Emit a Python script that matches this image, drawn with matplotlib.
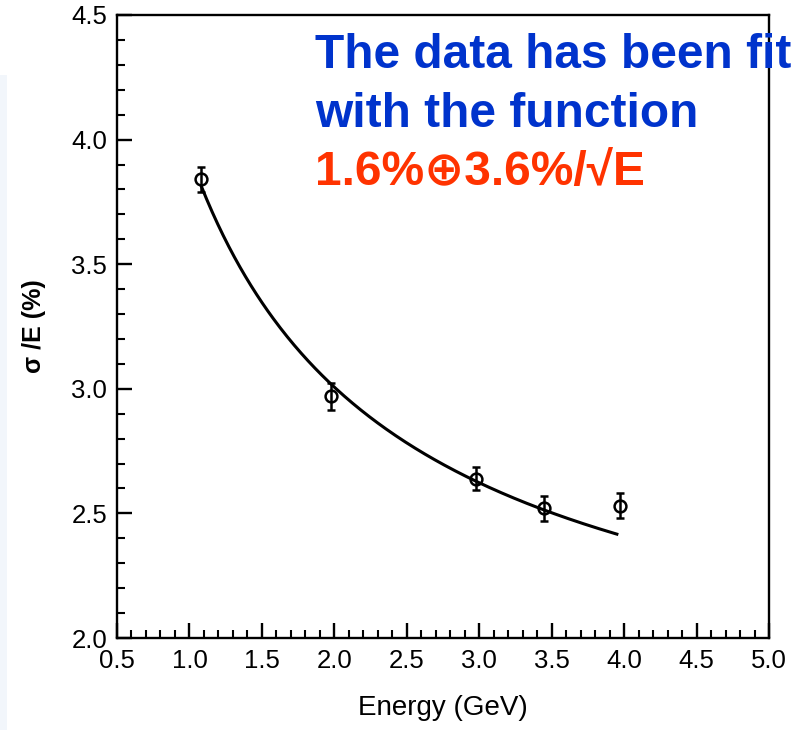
import numpy as np
import matplotlib
matplotlib.use("Agg")
import matplotlib.pyplot as plt
from matplotlib.patches import Rectangle
from matplotlib.ticker import MultipleLocator

# Measured energy resolution
energy = [1.08, 1.98, 2.98, 3.45, 3.97]
resolution = [3.84, 2.97, 2.64, 2.52, 2.53]
resolution_err = [0.05, 0.055, 0.045, 0.05, 0.05]

# Fit: sigma/E = a (+) b/sqrt(E), added in quadrature
fit_const = 1.6
fit_stoch = 3.6
fit_range = (1.08, 3.95)

x_ticks = [0.5, 1.0, 1.5, 2.0, 2.5, 3.0, 3.5, 4.0, 4.5, 5.0]
y_ticks = [2.0, 2.5, 3.0, 3.5, 4.0, 4.5]

note_lines = ["The data has been fit", "with the function"]
fit_label = "1.6%⊕3.6%/√E"

sans = ["Liberation Sans", "DejaVu Sans"]

fig = plt.figure(figsize=(8.05, 7.30), dpi=100)
fig.patches.append(Rectangle((0, 0), 7 / 805, 655 / 730, transform=fig.transFigure,
                             facecolor="#f2f6fb", edgecolor="none", zorder=0))
ax = fig.add_axes([117 / 805, 92 / 730, 652 / 805, 623 / 730])

e_fit = np.linspace(*fit_range, 300)
sigma_fit = np.sqrt(fit_const ** 2 + (fit_stoch / np.sqrt(e_fit)) ** 2)
ax.plot(e_fit, sigma_fit, color="black", lw=2.2, zorder=2)

ax.errorbar(energy, resolution, yerr=resolution_err, fmt="o", ms=8.5,
            mfc="none", mec="black", mew=1.8, ecolor="black", elinewidth=1.8,
            capsize=3, capthick=1.8, zorder=3)

ax.set_xlim(0.5, 5.0)
ax.set_ylim(2.0, 4.5)
ax.set_xticks(x_ticks)
ax.set_yticks(y_ticks)
ax.set_xticklabels([f"{v:.1f}" for v in x_ticks])
ax.set_yticklabels([f"{v:.1f}" for v in y_ticks])
ax.xaxis.set_minor_locator(MultipleLocator(0.1))
ax.yaxis.set_minor_locator(MultipleLocator(0.1))
ax.tick_params(which="major", direction="in", length=10.5, width=1.7,
               top=False, right=False, labelsize=18.5,
               labelfontfamily="Liberation Sans")
ax.tick_params(which="minor", direction="in", length=5.5, width=1.5,
               top=False, right=False)
ax.tick_params(axis="x", pad=8)
ax.tick_params(axis="y", pad=7)
for s in ax.spines.values():
    s.set_linewidth(1.7)

ax.set_xlabel("Energy (GeV)", family=sans, fontsize=20, labelpad=16)
ax.set_ylabel("σ /E (%)", family=sans, fontsize=18, fontweight="bold", labelpad=18)

text_kw = dict(fontsize=34.5, fontweight="bold", family=sans,
               ha="left", va="baseline", zorder=5)
fig.text(315 / 805, 1 - 68 / 730, note_lines[0], color="#0033cc", **text_kw)
fig.text(315 / 805, 1 - 127 / 730, note_lines[1], color="#0033cc", **text_kw)
fig.text(315 / 805, 1 - 185 / 730, fit_label, color="#ff3300", **text_kw)

fig.savefig("out.png", dpi=100)
